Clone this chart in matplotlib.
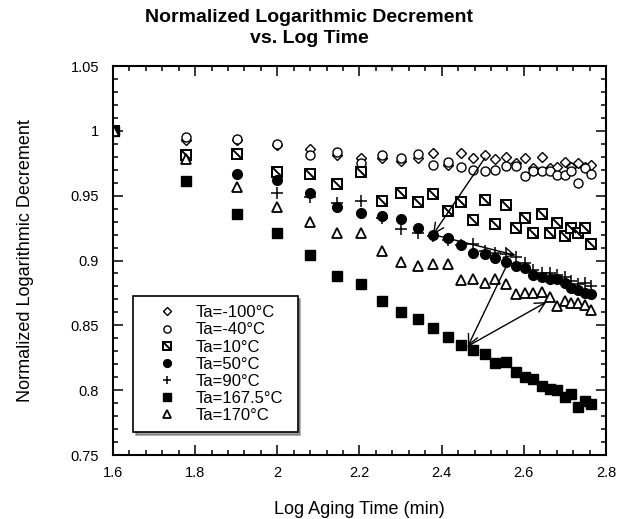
import numpy as np
import matplotlib
matplotlib.use("Agg")
import matplotlib.pyplot as plt
from matplotlib.path import Path
from matplotlib.legend_handler import HandlerTuple
from matplotlib.ticker import MultipleLocator, FuncFormatter

plt.rcParams['font.family'] = ['Liberation Sans', 'DejaVu Sans']

nan = np.nan
log_time = [1.602, 1.778, 1.903, 2.000, 2.079, 2.146, 2.204, 2.255, 2.301, 2.342,
            2.380, 2.415, 2.447, 2.477, 2.505, 2.531, 2.556, 2.580, 2.602, 2.623,
            2.643, 2.663, 2.681, 2.699, 2.716, 2.732, 2.748, 2.763]

ta_m100 = [1.000, 0.993, 0.993, 0.989, 0.986, 0.981, 0.979, 0.979, 0.977, 0.979,
           0.983, 0.974, 0.983, 0.979, 0.981, 0.978, 0.980, 0.975, 0.979, 0.971,
           0.980, 0.971, 0.972, 0.976, 0.972, 0.975, 0.972, 0.974]
ta_m40 = [1.000, 0.995, 0.994, 0.990, 0.981, 0.984, 0.975, 0.981, 0.979, 0.982,
          0.974, 0.976, 0.972, 0.970, 0.969, 0.970, 0.973, 0.973, 0.965, 0.969,
          0.969, 0.969, 0.966, 0.966, 0.969, 0.960, 0.971, 0.967]
ta_10 = [1.000, 0.981, 0.982, 0.968, 0.967, 0.959, 0.968, 0.946, 0.952, 0.945,
         0.951, 0.938, 0.945, 0.931, 0.947, 0.928, 0.943, 0.925, 0.933, 0.921,
         0.936, 0.921, 0.929, 0.919, 0.925, 0.921, 0.925, 0.913]
ta_50 = [1.000, nan, 0.967, 0.962, 0.952, 0.941, 0.937, 0.934, 0.932, 0.925,
         0.920, 0.917, 0.912, 0.906, 0.905, 0.902, 0.899, 0.896, 0.894, 0.889,
         0.887, 0.886, 0.886, 0.883, 0.879, 0.877, 0.875, 0.874]
ta_90 = [1.000, nan, nan, 0.952, 0.949, 0.944, 0.946, 0.933, 0.924, 0.921,
         0.919, 0.916, 0.912, 0.913, 0.907, 0.906, 0.905, 0.903, 0.898, 0.893,
         0.890, 0.890, 0.889, 0.887, 0.884, 0.882, 0.883, 0.880]
ta_1675 = [1.000, 0.961, 0.936, 0.921, 0.904, 0.888, 0.882, 0.869, 0.860, 0.855,
           0.848, 0.841, 0.835, 0.831, 0.828, 0.821, 0.822, 0.814, 0.810, 0.809,
           0.803, 0.801, 0.800, 0.795, 0.797, 0.787, 0.792, 0.789]
ta_170 = [1.000, 0.978, 0.957, 0.941, 0.930, 0.921, 0.921, 0.907, 0.899, 0.896,
          0.897, 0.897, 0.885, 0.886, 0.883, 0.886, 0.882, 0.874, 0.875, 0.875,
          0.876, 0.872, 0.865, 0.869, 0.867, 0.867, 0.866, 0.862]

labels = ['Ta=-100°C', 'Ta=-40°C', 'Ta=10°C', 'Ta=50°C', 'Ta=90°C',
          'Ta=167.5°C', 'Ta=170°C']

fig = plt.figure(figsize=(6.18, 5.19), dpi=100)
ax = fig.add_axes([0.1828, 0.1233, 0.7978, 0.7495])

mw = 1.0
h1, = ax.plot(log_time, ta_m100, linestyle='none', marker='D', ms=4.6,
              mfc='white', mec='black', mew=mw)
h2, = ax.plot(log_time, ta_m40, linestyle='none', marker='o', ms=6.5,
              mfc='white', mec='black', mew=mw)
h3a, = ax.plot(log_time, ta_10, linestyle='none', marker='s', ms=6.5,
               mfc='white', mec='black', mew=1.4)
diag = Path([(-1, 1), (1, -1)], [Path.MOVETO, Path.LINETO])
h3b, = ax.plot(log_time, ta_10, linestyle='none', marker=diag, ms=6.5,
               mfc='none', mec='black', mew=1.4)
h4, = ax.plot(log_time, ta_50, linestyle='none', marker='o', ms=7,
              mfc='black', mec='black', mew=mw)
h5, = ax.plot(log_time, ta_90, linestyle='none', marker='+', ms=8,
              mec='black', mew=1.1)
h6, = ax.plot(log_time, ta_1675, linestyle='none', marker='s', ms=7,
              mfc='black', mec='black', mew=mw)
h7, = ax.plot(log_time, ta_170, linestyle='none', marker='^', ms=7,
              mfc='white', mec='black', mew=1.3)

arrow_kw = dict(arrowstyle='->', color='black', lw=1.0, shrinkA=0, shrinkB=0,
                mutation_scale=18)
ax.annotate('', xy=(2.379, 0.920), xytext=(2.505, 0.979), arrowprops=arrow_kw)
ax.annotate('', xy=(2.580, 0.904), xytext=(2.379, 0.920), arrowprops=arrow_kw)
ax.annotate('', xy=(2.464, 0.834), xytext=(2.561, 0.898), arrowprops=arrow_kw)
ax.annotate('', xy=(2.655, 0.868), xytext=(2.464, 0.834), arrowprops=arrow_kw)

ax.set_xlim(1.6, 2.8)
ax.set_ylim(0.75, 1.05)
ax.xaxis.set_major_locator(MultipleLocator(0.2))
ax.xaxis.set_minor_locator(MultipleLocator(0.04))
ax.yaxis.set_major_locator(MultipleLocator(0.05))
ax.yaxis.set_minor_locator(MultipleLocator(0.01))
fmt = FuncFormatter(lambda v, p: ('%.2f' % v).rstrip('0').rstrip('.'))
ax.xaxis.set_major_formatter(fmt)
ax.yaxis.set_major_formatter(fmt)
ax.tick_params(which='both', direction='in', top=True, right=True, labelsize=10.5,
               width=1.1)
ax.tick_params(which='major', length=7)
ax.tick_params(which='minor', length=3.5)
ax.tick_params(axis='x', which='major', pad=8)
ax.tick_params(axis='y', which='major', pad=10)
for s in ax.spines.values():
    s.set_linewidth(1.5)

ax.set_xlabel('Log Aging Time (min)', fontsize=13, labelpad=15)
ax.set_ylabel('Normalized Logarithmic Decrement', fontsize=13, labelpad=26)
fig.text(0.5, 0.982, 'Normalized Logarithmic Decrement\nvs. Log Time',
         ha='center', va='top', fontsize=14, fontweight='bold', linespacing=1.25)

leg = ax.legend([h1, h2, (h3a, h3b), h4, h5, h6, h7], labels,
                handler_map={tuple: HandlerTuple(ndivide=1)},
                loc='lower left', bbox_to_anchor=(0.0406, 0.058, 0.334, 0.382),
                mode='expand', fontsize=12, labelspacing=0.13, borderpad=0.55,
                handlelength=3.0, handletextpad=0.2, borderaxespad=0,
                frameon=True, fancybox=False, shadow=True, framealpha=1,
                edgecolor='black', markerscale=0.8)
leg.get_frame().set_linewidth(1.2)

fig.savefig('out.png', dpi=100)
